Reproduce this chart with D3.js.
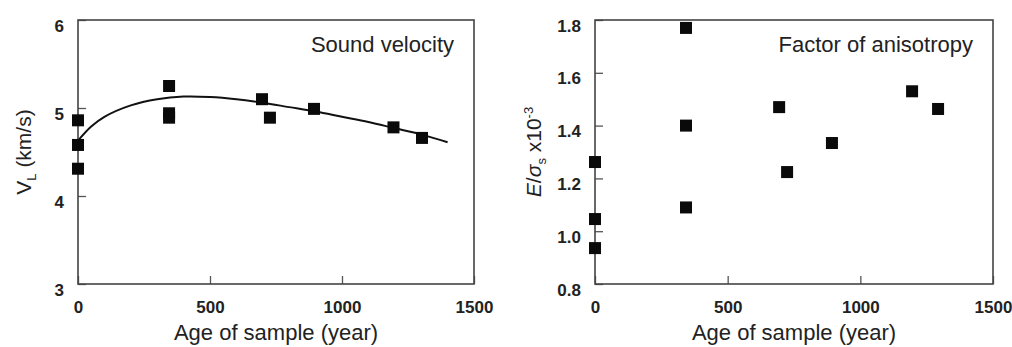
<!DOCTYPE html>
<html>
<head>
<meta charset="utf-8">
<script src="https://cdn.jsdelivr.net/npm/d3@7"></script>
<style>
  body { margin: 0; background: #fff; }
  svg text { font-family: "Liberation Sans", Arial, sans-serif; fill: #222; }
  .tick text { font-size: 17px; font-weight: bold; }
  .tick line { stroke: #555; stroke-width: 1.3; }
</style>
</head>
<body>
<div id="chart"></div>
<script>

var width = 1012,
height = 347;

// left panel: sound velocity
var vl_years = [0, 0, 0, 345, 345, 345, 697, 727, 894, 1195, 1303];
var vl_values = [4.86, 4.58, 4.31, 5.25, 4.94, 4.89, 5.10, 4.89, 4.99, 4.78, 4.66];

// fitted line
var fit_years = [0, 50, 100, 200, 300, 400, 500, 600, 700, 800, 900, 1000, 1100, 1200, 1300, 1400];
var fit_values = [4.63, 4.79, 4.90, 5.03, 5.10, 5.13, 5.125, 5.10, 5.06, 5.01, 4.96, 4.90, 4.84, 4.77, 4.70, 4.61];

// right panel: factor of anisotropy
var ef_years = [0, 0, 0, 343, 343, 343, 694, 724, 893, 1195, 1293];
var ef_values = [1.262, 1.046, 0.936, 1.77, 1.40, 1.09, 1.47, 1.224, 1.334, 1.53, 1.463];

var x_ticks = [0, 500, 1000, 1500];
var vl_ticks = [3, 4, 5, 6];
var ef_ticks = [0.8, 1.0, 1.2, 1.4, 1.6, 1.8];

var marker = 12;

var svg = d3.select("#chart")
.append("svg")
.attr("width", width)
.attr("height", height);

function drawPanel(opts) {

  var x = d3.scaleLinear()
  .domain([0, 1500])
  .range([opts.left, opts.right]);

  var y = d3.scaleLinear()
  .domain(opts.domain)
  .range([opts.bottom, opts.top]);

  var g = svg.append("g");

  // x axis, ticks point inward
  g.append("g")
  .attr("transform", "translate(0," + opts.bottom + ")")
  .call(d3.axisBottom(x)
    .tickValues(x_ticks)
    .tickSizeInner(-8)
    .tickSizeOuter(0)
    .tickPadding(17)
    .tickFormat(d3.format("d")))
  .call(function(a) { a.select(".domain").remove(); });

  // y axis
  g.append("g")
  .attr("transform", "translate(" + opts.left + ",0)")
  .call(d3.axisLeft(y)
    .tickValues(opts.ticks)
    .tickSizeInner(-8)
    .tickSizeOuter(0)
    .tickPadding(14)
    .tickFormat(d3.format(opts.fmt)))
  .call(function(a) {
    a.select(".domain").remove();
    a.selectAll(".tick text").attr("dy", "0.65em");
  });

  // frame
  g.append("rect")
  .attr("x", opts.left)
  .attr("y", opts.top)
  .attr("width", opts.right - opts.left)
  .attr("height", opts.bottom - opts.top)
  .style("fill", "none")
  .style("stroke", "#444")
  .style("stroke-width", 1.6);

  if (opts.fit) {
    var line = d3.line()
    .x(function(d) { return x(d[0]); })
    .y(function(d) { return y(d[1]); })
    .curve(d3.curveCatmullRom);

    g.append("path")
    .datum(d3.zip(fit_years, fit_values))
    .attr("d", line)
    .style("fill", "none")
    .style("stroke", "#111")
    .style("stroke-width", 2);
  }

  g.selectAll("rect.pt")
  .data(d3.zip(opts.xs, opts.ys))
  .enter()
  .append("rect")
  .attr("class", "pt")
  .attr("x", function(d) { return x(d[0]) - marker / 2; })
  .attr("y", function(d) { return y(d[1]) - marker / 2; })
  .attr("width", marker)
  .attr("height", marker)
  .style("fill", "#0a0a0a");

  // panel label
  g.append("text")
  .attr("x", opts.right - 20)
  .attr("y", opts.top + 32)
  .attr("text-anchor", "end")
  .style("font-size", "22px")
  .text(opts.label);

  // x title
  g.append("text")
  .attr("x", (opts.left + opts.right) / 2)
  .attr("y", 340)
  .attr("text-anchor", "middle")
  .style("font-size", "22px")
  .text("Age of sample (year)");

  return g;
}

var left = drawPanel({
  left: 78, right: 474, top: 20, bottom: 284,
  domain: [3, 6], ticks: vl_ticks, fmt: "d",
  xs: vl_years, ys: vl_values, fit: true,
  label: "Sound velocity"
});

var right = drawPanel({
  left: 595, right: 993, top: 20, bottom: 284,
  domain: [0.8, 1.8], ticks: ef_ticks, fmt: ".1f",
  xs: ef_years, ys: ef_values, fit: false,
  label: "Factor of anisotropy"
});

// y titles
var vlTitle = svg.append("text")
.attr("transform", "translate(31,152) rotate(-90)")
.attr("text-anchor", "middle")
.style("font-size", "21px");
vlTitle.append("tspan").text("V");
vlTitle.append("tspan").attr("dy", 5).style("font-size", "13px").text("L");
vlTitle.append("tspan").attr("dy", -5).text(" (km/s)");

var efTitle = svg.append("text")
.attr("transform", "translate(541,152) rotate(-90)")
.attr("text-anchor", "middle")
.style("font-size", "21px");
efTitle.append("tspan").style("font-style", "italic").text("E");
efTitle.append("tspan").text("/");
efTitle.append("tspan").style("font-style", "italic").text("σ");
efTitle.append("tspan").attr("dy", 5).style("font-size", "13px").text("s");
efTitle.append("tspan").attr("dy", -5).text(" x10");
efTitle.append("tspan").attr("dy", -8).style("font-size", "13px").text("-3");

</script>
</body>
</html>
